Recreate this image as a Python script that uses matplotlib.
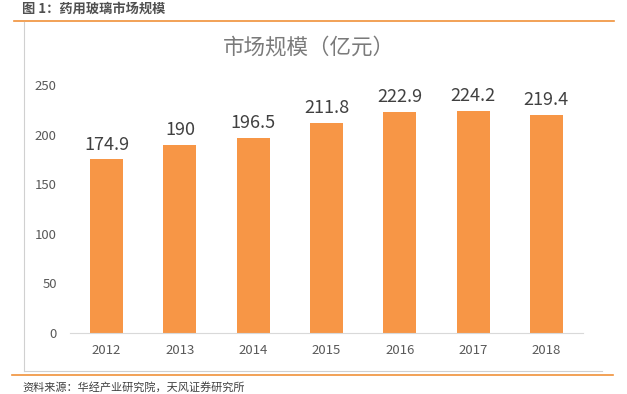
import matplotlib
matplotlib.use("Agg")
import matplotlib.pyplot as plt
from matplotlib.lines import Line2D

plt.rcParams['font.family'] = ['Noto Sans CJK SC', 'DejaVu Sans']

years = ['2012', '2013', '2014', '2015', '2016', '2017', '2018']
values = [174.9, 190, 196.5, 211.8, 222.9, 224.2, 219.4]
value_labels = ['174.9', '190', '196.5', '211.8', '222.9', '224.2', '219.4']
yticks = [0, 50, 100, 150, 200, 250]

W, H = 627, 394
fig = plt.figure(figsize=(W/100, H/100), dpi=100)

def fx(x): return x / W
def fy(y): return 1 - y / H

# header
fig.text(fx(22), fy(9), '图 1：药用玻璃市场规模', fontsize=9.5, fontweight='bold',
         color='#505050', va='center', ha='left')
fig.add_artist(Line2D([fx(14), fx(614)], [fy(21), fy(21)], color='#F0913A', lw=1.2))
# frame
fig.add_artist(Line2D([fx(24), fx(24)], [fy(22), fy(371)], color='#D0D0D0', lw=0.8))
fig.add_artist(Line2D([fx(24), fx(602)], [fy(371), fy(371)], color='#D0D0D0', lw=0.8))
fig.add_artist(Line2D([fx(12), fx(613)], [fy(375), fy(375)], color='#F0913A', lw=1.2))
fig.text(fx(22), fy(387), '资料来源：华经产业研究院，天风证券研究所', fontsize=8,
         color='#404040', va='center', ha='left')

ax = fig.add_axes([fx(70), fy(333), (583-70)/W, (333-85)/H])
x = range(len(years))
bars = ax.bar(x, values, width=0.45, color='#F79646')
for xi, v, lab in zip(x, values, value_labels):
    ax.text(xi, v + 6, lab, ha='center', va='bottom', fontsize=13, color='#404040')
ax.set_xlim(-0.5, len(years) - 0.5)
ax.set_ylim(0, 250)
ax.set_yticks(yticks)
ax.set_xticks(list(x))
ax.set_xticklabels(years)
ax.tick_params(axis='both', length=0, labelsize=9.5, colors='#595959')
ax.tick_params(axis='y', pad=9.5)
ax.tick_params(axis='x', pad=8)
for s in ['top', 'right', 'left']:
    ax.spines[s].set_visible(False)
ax.spines['bottom'].set_color('#D9D9D9')
ax.set_facecolor('none')

fig.text(fx(309), fy(48), '市场规模（亿元）', fontsize=15.5, color='#7A7A7A',
         ha='center', va='center')

fig.savefig('out.png', dpi=100)
